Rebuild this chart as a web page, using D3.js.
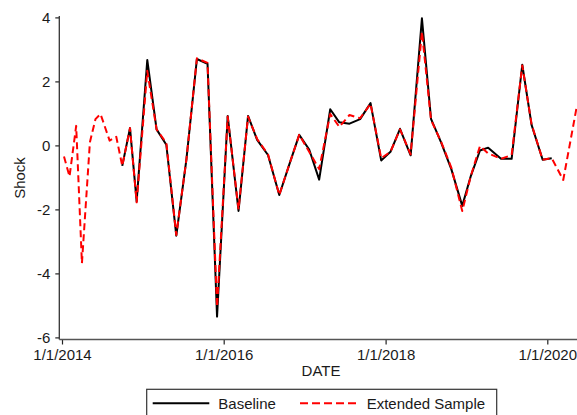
<!DOCTYPE html>
<html>
<head>
<meta charset="utf-8">
<script src="https://cdn.jsdelivr.net/npm/d3@7"></script>
<style>
  body { margin: 0; background: #fff; }
  svg { display: block; }
  text { font-family: "Liberation Sans", Arial, Helvetica, sans-serif; fill: #1a1a1a; }
</style>
</head>
<body>
<svg id="chart" width="577" height="415"></svg>
<script>
// Policy-shock series: observation dates shared by both samples
const dates = [
  "2014-01-10", "2014-02-04", "2014-03-06", "2014-04-01", "2014-05-07", "2014-06-01", "2014-06-24", "2014-08-04", "2014-09-03",
  "2014-09-30", "2014-11-04", "2014-12-04", "2015-01-21", "2015-03-04", "2015-04-17", "2015-06-01", "2015-07-17", "2015-09-02", "2015-10-20", "2015-12-02",
  "2016-01-19", "2016-03-08", "2016-04-20", "2016-05-31", "2016-07-19", "2016-09-08", "2016-10-23", "2016-12-07",
  "2017-01-21", "2017-03-07", "2017-04-26", "2017-06-06", "2017-07-22", "2017-09-08", "2017-10-25", "2017-12-12",
  "2018-01-23", "2018-03-07", "2018-04-24", "2018-06-14", "2018-07-25", "2018-09-08", "2018-10-25", "2018-12-13",
  "2019-01-21", "2019-03-03", "2019-04-09", "2019-06-06", "2019-07-24", "2019-09-10", "2019-10-22", "2019-12-11",
  "2020-01-21", "2020-03-13", "2020-05-14"
];

// Baseline shocks (no observation outside the baseline window)
const baseline = [
  null, null, null, null, null, null, null, null, null,
  -0.64, 0.54, -1.75, 2.67, 0.50, 0.02, -2.82, -0.42, 2.70, 2.55, -5.35,
  0.92, -2.05, 0.92, 0.17, -0.30, -1.55, -0.60, 0.33,
  -0.13, -1.07, 1.13, 0.72, 0.68, 0.82, 1.32, -0.47,
  -0.20, 0.52, -0.31, 3.97, 0.83, 0.10, -0.75, -1.89,
  -0.95, -0.16, -0.07, -0.42, -0.42, 2.52, 0.64, -0.45,
  -0.40, null, null
];

// Extended-sample shocks
const extended = [
  -0.35, -0.97, 0.61, -3.68, 0.10, 0.82, 0.98, 0.15, 0.27,
  -0.64, 0.54, -1.78, 2.33, 0.50, 0.08, -2.80, -0.42, 2.72, 2.58, -5.05,
  0.90, -2.00, 0.90, 0.20, -0.28, -1.55, -0.60, 0.33,
  -0.20, -0.74, 0.98, 0.58, 0.95, 0.85, 1.30, -0.40,
  -0.20, 0.50, -0.28, 3.55, 0.80, 0.12, -0.70, -2.05,
  -0.95, -0.02, -0.25, -0.42, -0.30, 2.50, 0.66, -0.45,
  -0.40, -1.08, 1.25
];

const yTicks = [-6, -4, -2, 0, 2, 4];
const xTickDates = ["2014-01-01", "2016-01-01", "2018-01-01", "2020-01-01"];
const xTickLabels = ["1/1/2014", "1/1/2016", "1/1/2018", "1/1/2020"];
const seriesNames = ["Baseline", "Extended Sample"];
const xTitle = "DATE";
const yTitle = "Shock";

const parse = d3.timeParse("%Y-%m-%d");
const svg = d3.select("#chart");
const FONT = "15px";

const x = d3.scaleTime()
  .domain([parse("2014-01-01"), parse("2020-01-01")])
  .range([62, 547.3]);
const y = d3.scaleLinear().domain([-6, 4]).range([337.4, 17.4]);

const axisX0 = 59.3, axisY0 = 339.5;

// Y axis
const gy = svg.append("g").attr("transform", `translate(${axisX0},0)`)
  .call(d3.axisLeft(y).tickValues(yTicks).tickSize(4).tickPadding(5)
    .tickFormat(d => String(d)));
gy.select(".domain").remove();
gy.selectAll(".tick line").attr("stroke", "#222").attr("stroke-width", 1.2);
gy.selectAll(".tick text").style("font-size", FONT).attr("fill", "#1a1a1a");

// X axis
const gx = svg.append("g").attr("transform", `translate(0,${axisY0})`)
  .call(d3.axisBottom(x).tickValues(xTickDates.map(parse)).tickSize(5).tickPadding(5)
    .tickFormat((d, i) => xTickLabels[i]));
gx.select(".domain").remove();
gx.selectAll(".tick line").attr("stroke", "#222").attr("stroke-width", 1.2);
gx.selectAll(".tick text").style("font-size", FONT).attr("fill", "#1a1a1a");

// Axis lines
svg.append("line").attr("x1", axisX0).attr("x2", axisX0).attr("y1", 16).attr("y2", axisY0)
  .attr("stroke", "#333").attr("stroke-width", 1.3);
svg.append("line").attr("x1", axisX0).attr("x2", 577).attr("y1", axisY0).attr("y2", axisY0)
  .attr("stroke", "#555").attr("stroke-width", 1.3);

// Axis titles
svg.append("text").attr("x", 321).attr("y", 376).attr("text-anchor", "middle")
  .style("font-size", FONT).text(xTitle);
svg.append("text").attr("transform", "translate(25,178) rotate(-90)")
  .attr("text-anchor", "middle").style("font-size", FONT).text(yTitle);

// Series lines
const rows = dates.map((d, i) => ({ date: parse(d), b: baseline[i], e: extended[i] }));
const lineFor = key => d3.line()
  .defined(r => r[key] != null)
  .x(r => x(r.date))
  .y(r => y(r[key]));

svg.append("path").datum(rows).attr("d", lineFor("b"))
  .attr("fill", "none").attr("stroke", "#000").attr("stroke-width", 2)
  .attr("stroke-linejoin", "round");
svg.append("path").datum(rows).attr("d", lineFor("e"))
  .attr("fill", "none").attr("stroke", "#ff0000").attr("stroke-width", 2)
  .attr("stroke-dasharray", "7,4").attr("stroke-linejoin", "round");

// Legend
const lg = svg.append("g");
lg.append("rect").attr("x", 146.7).attr("y", 389.3).attr("width", 350).attr("height", 32)
  .attr("fill", "#fff").attr("stroke", "#333").attr("stroke-width", 1.2);
lg.append("line").attr("x1", 152.7).attr("x2", 209.3).attr("y1", 403.3).attr("y2", 403.3)
  .attr("stroke", "#000").attr("stroke-width", 2);
lg.append("text").attr("x", 218.3).attr("y", 408.5).style("font-size", FONT).text(seriesNames[0]);
lg.append("line").attr("x1", 300).attr("x2", 357.3).attr("y1", 403.3).attr("y2", 403.3)
  .attr("stroke", "#ff0000").attr("stroke-width", 2).attr("stroke-dasharray", "8,4");
lg.append("text").attr("x", 366.7).attr("y", 408.5).style("font-size", FONT).text(seriesNames[1]);
</script>
</body>
</html>
